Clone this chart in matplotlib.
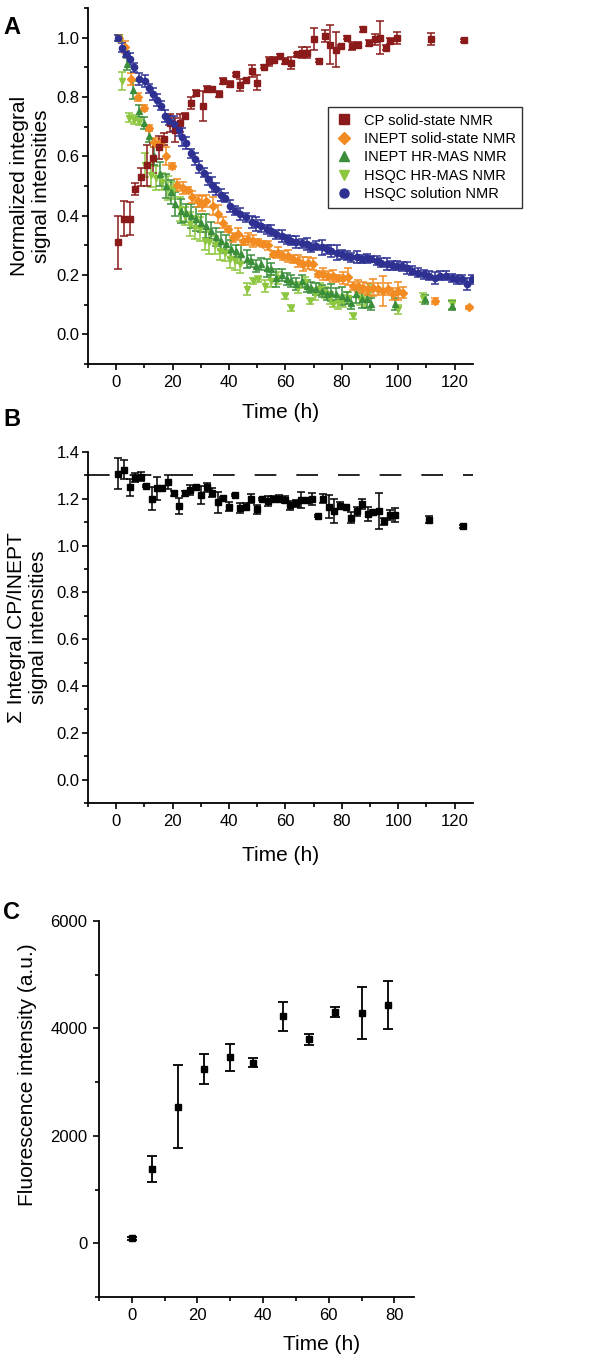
import numpy as np
import matplotlib.pyplot as plt
from matplotlib.ticker import MultipleLocator

plt.rcParams['font.family'] = ['Liberation Sans', 'DejaVu Sans']

# ---- Panel A: normalized integral signal intensities ----
t_cp = [0.8, 2.8, 4.8, 6.8, 8.8, 11, 13, 15, 17, 19,
        20.7, 22.5, 24.5, 26.4, 28.2, 30.6, 32.3, 34, 36.5, 38,
        40.2, 42.4, 44, 46, 48.3, 50, 52.4, 54.2, 56, 58,
        60, 61.8, 64, 66, 67.7, 70, 71.9, 73.9, 75.8, 77.8,
        79.8, 81.7, 83.7, 85.8, 87.6, 89.6, 91.6, 93.5, 95.5, 97.2,
        99.4, 111.6, 123.4]
v_cp = [0.31, 0.39, 0.39, 0.49, 0.53, 0.57, 0.595, 0.63, 0.66, 0.713,
        0.69, 0.713, 0.735, 0.78, 0.814, 0.77, 0.826, 0.828, 0.81, 0.853,
        0.845, 0.876, 0.842, 0.856, 0.887, 0.848, 0.902, 0.92, 0.925, 0.94,
        0.923, 0.915, 0.944, 0.95, 0.95, 0.997, 0.923, 1.006, 0.977, 0.96,
        0.972, 1.0, 0.972, 0.977, 1.028, 0.983, 0.994, 1.0, 0.966, 0.989,
        1.0, 0.997, 0.991]
e_cp = [0.088, 0.06, 0.055, 0.02, 0.03, 0.07, 0.05, 0.04, 0.02, 0.03,
        0.04, 0.03, 0.01, 0.02, 0.01, 0.05, 0.01, 0.005, 0.01, 0.01,
        0.01, 0.005, 0.02, 0.005, 0.02, 0.025, 0.005, 0.015, 0.01, 0.005,
        0.01, 0.02, 0.005, 0.02, 0.02, 0.037, 0.005, 0.02, 0.065, 0.06,
        0.005, 0.005, 0.015, 0.01, 0.008, 0.01, 0.02, 0.056, 0.008, 0.01,
        0.02, 0.02, 0.005]

t_ss = [1, 3, 5.2, 7.8, 9.7, 11.7, 13.5, 15.8, 17.8, 19.7,
        21.7, 23.5, 25.3, 27, 29, 30.5, 32, 34.3, 36, 37.9,
        39.6, 41.4, 43.2, 45, 46.7, 48.5, 50.3, 52, 53.8, 55.6,
        57.4, 59.2, 61, 62.7, 64.5, 66.3, 68, 69.8, 71.6, 73.4,
        75.1, 76.9, 78.7, 80.5, 82.2, 84, 85.8, 87.6, 89.3, 91.1,
        92.9, 94.7, 96.4, 98.2, 100, 101.8, 113, 125]
v_ss = [1.0, 0.97, 0.86, 0.80, 0.763, 0.696, 0.647, 0.65, 0.60, 0.566,
        0.504, 0.493, 0.487, 0.462, 0.45, 0.44, 0.45, 0.434, 0.406, 0.377,
        0.355, 0.327, 0.338, 0.315, 0.321, 0.315, 0.31, 0.304, 0.30, 0.27,
        0.276, 0.265, 0.265, 0.254, 0.248, 0.237, 0.242, 0.237, 0.203, 0.203,
        0.197, 0.197, 0.19, 0.19, 0.195, 0.163, 0.163, 0.158, 0.152, 0.158,
        0.152, 0.146, 0.152, 0.135, 0.146, 0.141, 0.113, 0.092]
e_ss = [0.01, 0.02, 0.02, 0.015, 0.01, 0.01, 0.015, 0.01, 0.03, 0.01,
        0.02, 0.02, 0.01, 0.02, 0.02, 0.025, 0.02, 0.03, 0.03, 0.02,
        0.01, 0.015, 0.02, 0.015, 0.02, 0.02, 0.01, 0.01, 0.015, 0.01,
        0.02, 0.015, 0.02, 0.015, 0.02, 0.025, 0.02, 0.02, 0.01, 0.02,
        0.015, 0.02, 0.01, 0.02, 0.03, 0.015, 0.02, 0.02, 0.02, 0.03,
        0.02, 0.05, 0.02, 0.02, 0.03, 0.02, 0.01, 0.005]

t_hr = [1, 3.8, 5.8, 7.9, 9.7, 11.7, 13.5, 15.5, 17.5, 19.5,
        21, 23, 24.8, 26.6, 28.4, 30.2, 32, 33.7, 35.5, 37.3,
        39, 40.8, 42.6, 44.4, 46.2, 47.9, 49.7, 51.5, 53.3, 55,
        56.8, 58.6, 60.4, 62, 63.9, 65.7, 67.5, 69.2, 71, 72.8,
        74.6, 76.3, 78, 80, 81.7, 83.4, 85, 87, 88.8, 90.5,
        98.8, 109.5, 119]
v_hr = [1.0, 0.91, 0.825, 0.754, 0.713, 0.668, 0.60, 0.54, 0.50, 0.48,
        0.44, 0.417, 0.41, 0.40, 0.389, 0.375, 0.366, 0.35, 0.327, 0.315,
        0.304, 0.287, 0.282, 0.27, 0.254, 0.248, 0.231, 0.237, 0.225, 0.22,
        0.19, 0.20, 0.186, 0.18, 0.17, 0.18, 0.163, 0.158, 0.152, 0.146,
        0.135, 0.141, 0.135, 0.13, 0.124, 0.107, 0.135, 0.118, 0.12, 0.101,
        0.101, 0.118, 0.096]
e_hr = [0.01, 0.02, 0.03, 0.02, 0.02, 0.02, 0.03, 0.04, 0.04, 0.04,
        0.04, 0.04, 0.03, 0.04, 0.04, 0.03, 0.04, 0.03, 0.03, 0.03,
        0.03, 0.03, 0.02, 0.03, 0.03, 0.02, 0.02, 0.02, 0.03, 0.02,
        0.03, 0.02, 0.02, 0.02, 0.02, 0.02, 0.02, 0.02, 0.02, 0.02,
        0.02, 0.03, 0.02, 0.03, 0.02, 0.02, 0.03, 0.03, 0.03, 0.02,
        0.02, 0.015, 0.015]

t_hm = [1, 2.2, 4.4, 6.4, 8.1, 10.3, 12.3, 14, 16.4, 18.2,
        20, 22.5, 24.3, 26, 27.8, 29.6, 31.4, 33, 35, 36.7,
        38.5, 40.2, 42, 43.8, 46.2, 48.5, 50.3, 52.7, 55, 57.5,
        59.8, 62.1, 64.5, 66.9, 68.6, 70.4, 72.2, 74, 75.7, 77,
        78.7, 80.5, 82.2, 84, 86.4, 88.2, 90, 100, 108.9, 119]
v_hm = [1.0, 0.853, 0.73, 0.724, 0.715, 0.572, 0.538, 0.527, 0.515, 0.493,
        0.485, 0.423, 0.40, 0.372, 0.36, 0.355, 0.315, 0.31, 0.30, 0.282,
        0.276, 0.254, 0.248, 0.237, 0.152, 0.18, 0.186, 0.163, 0.18, 0.19,
        0.13, 0.09, 0.158, 0.175, 0.113, 0.135, 0.152, 0.141, 0.124, 0.101,
        0.107, 0.113, 0.124, 0.062, 0.118, 0.113, 0.15, 0.085, 0.124, 0.101]
e_hm = [0.01, 0.03, 0.015, 0.015, 0.01, 0.04, 0.04, 0.04, 0.03, 0.04,
        0.03, 0.04, 0.03, 0.04, 0.04, 0.04, 0.03, 0.04, 0.03, 0.03,
        0.03, 0.03, 0.03, 0.03, 0.02, 0.01, 0.01, 0.02, 0.02, 0.02,
        0.01, 0.01, 0.02, 0.02, 0.01, 0.02, 0.02, 0.02, 0.02, 0.01,
        0.02, 0.02, 0.02, 0.01, 0.02, 0.02, 0.02, 0.015, 0.015, 0.015]

t_sol = [0.5, 2, 3.4, 5, 6.4, 8.1, 10.1, 11.7, 13, 14.6,
         16, 17.2, 18.8, 20.5, 22.3, 23.2, 24.7, 26.4, 28, 29.4,
         31, 32.5, 34, 35.5, 37, 38.5, 40.2, 42, 44, 46,
         48, 49.7, 51.5, 53.3, 55, 56.8, 58.6, 60.4, 62.1, 63.9,
         65.7, 67.5, 69.2, 71, 72.8, 74.6, 76.3, 78.1, 79.9, 81.7,
         83.4, 85.2, 87, 88.8, 90.5, 92.3, 94, 95.9, 97.6, 99.4,
         101.2, 103, 105, 107, 109, 111, 113, 114.8, 117, 119,
         120.7, 122.5, 124.3, 126]
v_sol = [1.00, 0.966, 0.944, 0.927, 0.90, 0.86, 0.854, 0.83, 0.81, 0.79,
         0.77, 0.735, 0.72, 0.71, 0.69, 0.665, 0.645, 0.61, 0.59, 0.565,
         0.545, 0.525, 0.505, 0.49, 0.47, 0.46, 0.434, 0.417, 0.406, 0.394,
         0.38, 0.372, 0.366, 0.355, 0.35, 0.338, 0.332, 0.321, 0.315, 0.31,
         0.307, 0.304, 0.293, 0.299, 0.293, 0.287, 0.282, 0.276, 0.27, 0.265,
         0.26, 0.26, 0.254, 0.256, 0.254, 0.248, 0.242, 0.237, 0.233, 0.231,
         0.229, 0.225, 0.214, 0.208, 0.203, 0.197, 0.19, 0.197, 0.197, 0.19,
         0.186, 0.186, 0.169, 0.186]
e_sol = [0.01, 0.015, 0.01, 0.02, 0.015, 0.02, 0.02, 0.015, 0.02, 0.02,
         0.015, 0.02, 0.015, 0.025, 0.02, 0.03, 0.02, 0.015, 0.02, 0.02,
         0.015, 0.02, 0.025, 0.02, 0.02, 0.015, 0.02, 0.015, 0.02, 0.015,
         0.02, 0.025, 0.02, 0.015, 0.02, 0.015, 0.02, 0.015, 0.015, 0.02,
         0.015, 0.02, 0.015, 0.015, 0.025, 0.015, 0.02, 0.025, 0.015, 0.015,
         0.015, 0.02, 0.015, 0.015, 0.01, 0.015, 0.015, 0.02, 0.015, 0.015,
         0.015, 0.02, 0.015, 0.015, 0.015, 0.015, 0.02, 0.015, 0.015, 0.015,
         0.015, 0.015, 0.02, 0.015]

# ---- Panel B: sum of CP + INEPT ----
t_sum = [0.8, 2.8, 4.8, 6.7, 8.7, 10.7, 12.6, 14.6, 16.4, 18.4,
         20.4, 22.4, 24.4, 26.2, 28.2, 30.2, 32.2, 34.1, 36.1, 38,
         40, 42.1, 44, 45.9, 47.9, 49.8, 51.8, 53.8, 55.7, 57.7,
         59.7, 61.6, 63.6, 65.6, 67.5, 69.5, 71.5, 73.4, 75.4, 77.3,
         79.3, 81.3, 83.2, 85.2, 87.2, 89.1, 91.1, 93.1, 95.1, 97,
         99, 110.8, 123]
v_sum = [1.308, 1.325, 1.249, 1.29, 1.294, 1.254, 1.2, 1.245, 1.245, 1.27,
         1.223, 1.17, 1.223, 1.237, 1.25, 1.216, 1.249, 1.226, 1.185, 1.202,
         1.167, 1.216, 1.16, 1.167, 1.2, 1.155, 1.2, 1.19, 1.2, 1.2,
         1.196, 1.172, 1.18, 1.196, 1.195, 1.2, 1.127, 1.2, 1.167, 1.148,
         1.17, 1.164, 1.12, 1.146, 1.178, 1.134, 1.143, 1.148, 1.103, 1.131,
         1.131, 1.11, 1.082]
e_sum = [0.065, 0.04, 0.035, 0.02, 0.02, 0.005, 0.05, 0.05, 0.01, 0.03,
         0.01, 0.035, 0.01, 0.02, 0.005, 0.04, 0.02, 0.02, 0.045, 0.005,
         0.02, 0.005, 0.02, 0.015, 0.02, 0.02, 0.005, 0.02, 0.01, 0.015,
         0.015, 0.02, 0.015, 0.035, 0.01, 0.025, 0.005, 0.02, 0.05, 0.05,
         0.015, 0.005, 0.025, 0.02, 0.02, 0.03, 0.01, 0.075, 0.015, 0.02,
         0.03, 0.015, 0.005]
sum_ref = 1.3

# ---- Panel C: fluorescence ----
t_fl = [0, 6, 14, 22, 30, 37, 46, 54, 62, 70, 78]
v_fl = [90, 1380, 2540, 3240, 3460, 3360, 4230, 3800, 4310, 4280, 4440]
e_fl = [30, 240, 770, 280, 250, 85, 270, 100, 90, 485, 450]

series = [
    ('HSQC HR-MAS NMR', t_hm, v_hm, e_hm, 'v', '#8dc63f'),
    ('INEPT HR-MAS NMR', t_hr, v_hr, e_hr, '^', '#3b8e3a'),
    ('INEPT solid-state NMR', t_ss, v_ss, e_ss, 'D', '#f28b22'),
    ('CP solid-state NMR', t_cp, v_cp, e_cp, 's', '#8b1a1a'),
    ('HSQC solution NMR', t_sol, v_sol, e_sol, 'o', '#2e3192'),
]
legend_order = ['CP solid-state NMR', 'INEPT solid-state NMR',
                'INEPT HR-MAS NMR', 'HSQC HR-MAS NMR', 'HSQC solution NMR']

TICK = 12
LABEL = 15


def style_axes(ax, ypad=1.5):
    for s in ('top', 'right'):
        ax.spines[s].set_visible(False)
    for s in ('left', 'bottom'):
        ax.spines[s].set_linewidth(1.3)
    ax.tick_params(which='major', direction='out', length=4.5, width=1.2,
                   labelsize=TICK)
    ax.tick_params(which='minor', direction='out', length=2.8, width=1.2)
    ax.tick_params(axis='y', which='major', pad=ypad)


fig = plt.figure(figsize=(6, 13.61), dpi=100)

# A
axA = fig.add_axes([0.1467, 0.7325, 0.6417, 0.2616])
for name, t, v, e, m, c in series:
    axA.errorbar(t, v, yerr=e, fmt=m, color=c, ecolor=c, ms=4.5,
                 elinewidth=1.1, capsize=3, capthick=1.1, mec=c)
axA.set_xlim(-10, 126.5)
axA.set_ylim(-0.1, 1.1)
axA.xaxis.set_major_locator(MultipleLocator(20))
axA.xaxis.set_minor_locator(MultipleLocator(10))
axA.yaxis.set_major_locator(MultipleLocator(0.2))
axA.yaxis.set_minor_locator(MultipleLocator(0.1))
axA.yaxis.set_major_formatter(plt.FormatStrFormatter('%.1f'))
axA.set_xlabel('Time (h)', fontsize=LABEL, labelpad=9)
axA.set_ylabel('Normalized integral\nsignal intensities', fontsize=LABEL,
               labelpad=4)
style_axes(axA)
markers = {s[0]: s[4] for s in series}
colors = {s[0]: s[5] for s in series}
leg_handles = [plt.Line2D([], [], marker=markers[n], color=colors[n],
                          ls='none', ms=6.5) for n in legend_order]
leg = axA.legend(leg_handles, legend_order, loc='upper left',
                 bbox_to_anchor=(0.623, 0.722), fontsize=10.5, frameon=True,
                 fancybox=False, edgecolor='black', labelspacing=0.3,
                 handletextpad=0.7, borderpad=0.45, handlelength=1.3,
                 borderaxespad=0)
leg.get_frame().set_linewidth(1.0)

# B
axB = fig.add_axes([0.1467, 0.41, 0.6417, 0.2579])
axB.errorbar(t_sum, v_sum, yerr=e_sum, fmt='s', color='black', ms=4.5,
             elinewidth=1.1, capsize=3, capthick=1.1)
axB.axhline(sum_ref, color='black', lw=1.2, dashes=(13, 12))
axB.set_xlim(-10, 126.5)
axB.set_ylim(-0.1, 1.4)
axB.xaxis.set_major_locator(MultipleLocator(20))
axB.xaxis.set_minor_locator(MultipleLocator(10))
axB.yaxis.set_major_locator(MultipleLocator(0.2))
axB.yaxis.set_minor_locator(MultipleLocator(0.1))
axB.yaxis.set_major_formatter(plt.FormatStrFormatter('%.1f'))
axB.set_xlabel('Time (h)', fontsize=LABEL, labelpad=12)
axB.set_ylabel('\u03a3 Integral CP/INEPT\nsignal intensities', fontsize=LABEL,
               labelpad=6)
style_axes(axB)

# C
axC = fig.add_axes([0.165, 0.047, 0.525, 0.2763])
axC.errorbar(t_fl, v_fl, yerr=e_fl, fmt='s', color='black', ms=4.5,
             elinewidth=1.3, capsize=3.5, capthick=1.3)
axC.set_xlim(-10, 86)
axC.set_ylim(-1000, 6000)
axC.xaxis.set_major_locator(MultipleLocator(20))
axC.xaxis.set_minor_locator(MultipleLocator(10))
axC.yaxis.set_major_locator(MultipleLocator(2000))
axC.yaxis.set_minor_locator(MultipleLocator(1000))
axC.set_xlabel('Time (h)', fontsize=LABEL)
axC.xaxis.set_label_coords(0.705, -0.1)
axC.set_ylabel('Fluorescence intensity (a.u.)', fontsize=LABEL)
axC.yaxis.set_label_coords(-0.198, 0.59)
style_axes(axC, ypad=4)

for lab, y in (('A', 0.988), ('B', 0.7), ('C', 0.338)):
    fig.text(0.005, y, lab, fontsize=17, fontweight='bold', va='top')

fig.savefig('out.png', dpi=100)
